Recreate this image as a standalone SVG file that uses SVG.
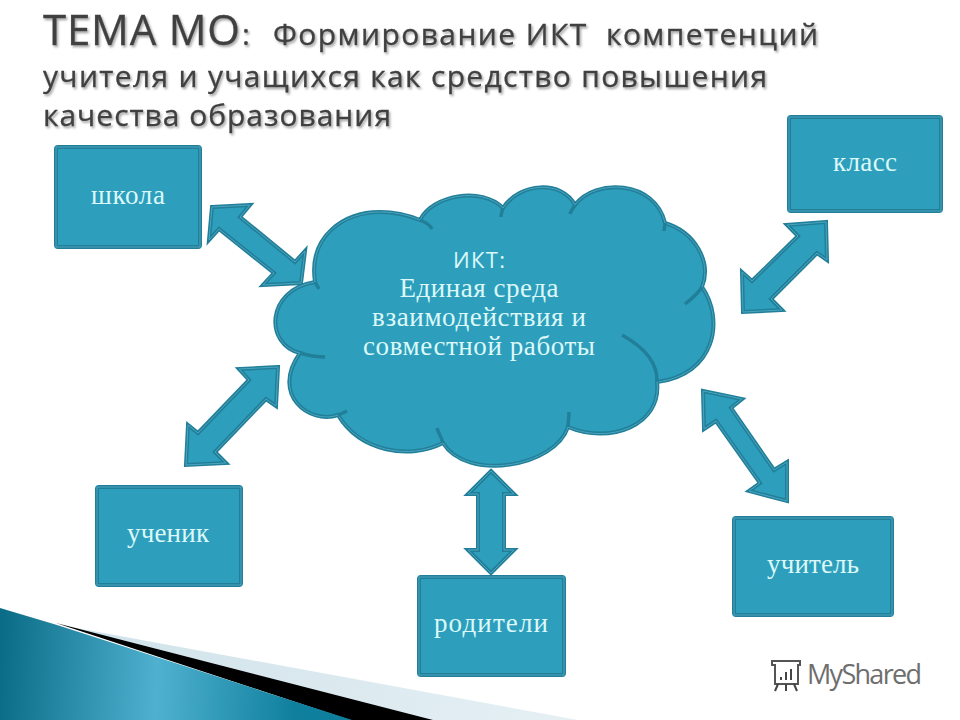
<svg xmlns="http://www.w3.org/2000/svg" width="960" height="720" viewBox="0 0 960 720">
<style>
.box{fill:#2d9fbd;stroke:#227f99;stroke-width:4;stroke-linejoin:round}
.inner{fill:none;stroke:#4aa6bf;stroke-width:1}
.arrow{fill:#2d9fbd;stroke:#227f99;stroke-width:4;stroke-linejoin:miter}
.hi{fill:none;stroke:#4aa6bf;stroke-width:1}
.curl{fill:none;stroke:#227f99;stroke-width:3.5}
.lbl{font-family:"Liberation Serif","DejaVu Serif",serif;font-size:27px;fill:#dcf8f8;text-anchor:middle}
.t{font-family:"Open Sans","DejaVu Sans",sans-serif;fill:#404040;stroke:#404040;stroke-width:.3;filter:url(#sh)}
</style>
<defs>
<filter id="sh" x="-5%" y="-20%" width="110%" height="150%"><feDropShadow dx="1.5" dy="2" stdDeviation="1.2" flood-color="#000" flood-opacity=".35"/></filter>
<linearGradient id="wedge" gradientUnits="userSpaceOnUse" x1="0" y1="660" x2="350" y2="680">
<stop offset="0" stop-color="#0a6c86"/><stop offset=".45" stop-color="#4fb1cf"/><stop offset=".85" stop-color="#0f7f9e"/><stop offset="1" stop-color="#0f7f9e"/>
</linearGradient>
<linearGradient id="pale" gradientUnits="userSpaceOnUse" x1="60" y1="625" x2="578" y2="720">
<stop offset="0" stop-color="#cfe2ea"/><stop offset="1" stop-color="#e6f0f4"/>
</linearGradient>
<polygon id="a1" points="212,207 250,205 240,217 295,262 305,251 301,283 263,285 274,273 219,229 209,240"/>
<polygon id="a2" points="826,222 787,225 798,236 752,281 742,272 743,312 782,310 771,299 817,253 827,260"/>
<polygon id="a3" points="278,367 239,369 249,380 198,433 188,425 186,465 226,463 215,452 266,399 276,406"/>
<polygon id="a4" points="703,391 742,399 731,408 774,470 787,462 787,501 749,491 760,483 716,421 704,429"/>
<polygon id="a5" points="491,471 514,494 504,494 504,550 514,550 491,573 468,550 478,550 478,494 468,494"/>
<path id="cl" d="M315,282 C308,235 345,212 380,212 C398,212 410,216 420,220 C432,195 482,186 503,208 C520,182 562,180 575,205 C595,178 655,180 665,223 C695,232 712,262 702,287 C725,320 715,375 657,382 C662,425 610,445 568,427 C555,467 467,482 443,443 C410,460 360,452 338,415 C310,425 270,395 300,353 C265,345 265,290 315,282 Z"/>
</defs>
<rect width="960" height="720" fill="#fff"/>
<g id="background">
<polygon points="60,625 578,720 433,720" fill="url(#pale)"/>
<polygon points="56,623 433,720 350,720" fill="#000"/>
<polygon points="0,608 57,625 352,720 0,720" fill="url(#wedge)"/>
</g>
<g id="title">
<text class="t" x="43" y="45" font-size="42" textLength="197" lengthAdjust="spacing">ТЕМА МО</text>
<text class="t" x="242" y="45" font-size="30">:</text>
<text class="t" x="273" y="45" font-size="30" textLength="545" lengthAdjust="spacing" xml:space="preserve">Формирование ИКТ  компетенций</text>
<text class="t" x="43" y="87" font-size="30" textLength="724" lengthAdjust="spacing">учителя и учащихся как средство повышения</text>
<text class="t" x="43" y="126" font-size="30" textLength="348" lengthAdjust="spacing">качества образования</text>
</g>
<g id="connectors">
<use href="#a1" class="arrow"/><use href="#a1" class="hi"/>
<use href="#a2" class="arrow"/><use href="#a2" class="hi"/>
<use href="#a3" class="arrow"/><use href="#a3" class="hi"/>
<use href="#a4" class="arrow"/><use href="#a4" class="hi"/>
<use href="#a5" class="arrow"/><use href="#a5" class="hi"/>
</g>
<g id="cloud">
<use href="#cl" fill="#2d9fbd" stroke="#227f99" stroke-width="4"/>
<use href="#cl" class="hi"/>
<path class="curl" d="M315,282 L319,289"/>
<path class="curl" d="M420,220 C425,222 430,225 432,229"/>
<path class="curl" d="M503,208 C502,211 501,214 501,217"/>
<path class="curl" d="M575,205 C573,208 571,211 570,214"/>
<path class="curl" d="M665,223 C665,226 664,229 664,231"/>
<path class="curl" d="M702,287 C697,295 690,300 685,304"/>
<path class="curl" d="M657,382 C658,360 640,345 622,335"/>
<path class="curl" d="M568,427 C568,422 569,418 569,412"/>
<path class="curl" d="M443,443 C441,436 438,432 437,428"/>
<path class="curl" d="M338,415 C341,414 345,412 347,411"/>
<path class="curl" d="M300,353 C310,356 318,357 325,357"/>
<text class="lbl" x="479" y="268" style="font-family:'Open Sans',sans-serif;font-size:22px" textLength="52" lengthAdjust="spacing">ИКТ:</text>
<text class="lbl" x="479" y="297" textLength="159" lengthAdjust="spacing">Единая среда</text>
<text class="lbl" x="479" y="326" textLength="214" lengthAdjust="spacing">взаимодействия и</text>
<text class="lbl" x="479" y="355" textLength="232" lengthAdjust="spacing">совместной работы</text>
</g>
<g id="school"><rect class="box" x="56" y="147" width="144" height="100" rx="2"/><rect class="inner" x="56" y="147" width="144" height="100"/><text class="lbl" x="128" y="204" textLength="74" lengthAdjust="spacing">школа</text></g>
<g id="class"><rect class="box" x="789" y="117" width="152" height="94" rx="2"/><rect class="inner" x="789" y="117" width="152" height="94"/><text class="lbl" x="865" y="171" textLength="64" lengthAdjust="spacing">класс</text></g>
<g id="student"><rect class="box" x="97" y="487" width="144" height="98" rx="2"/><rect class="inner" x="97" y="487" width="144" height="98"/><text class="lbl" x="168" y="542" textLength="82" lengthAdjust="spacing">ученик</text></g>
<g id="parents"><rect class="box" x="419" y="577" width="145" height="98" rx="2"/><rect class="inner" x="419" y="577" width="145" height="98"/><text class="lbl" x="491" y="632" textLength="114" lengthAdjust="spacing">родители</text></g>
<g id="teacher"><rect class="box" x="734" y="518" width="158" height="97" rx="2"/><rect class="inner" x="734" y="518" width="158" height="97"/><text class="lbl" x="813" y="573" textLength="92" lengthAdjust="spacing">учитель</text></g>
<g id="logo">
<path d="M772,661 H800 V665 H798 V684 H775 V665 H772 Z" fill="#fff" stroke="#555" stroke-width="2"/>
<path d="M781,680 V677 M786,680 V672 M791,680 V669 M778,684 L775,691 M786,684 V691 M794,684 L797,691" stroke="#444" stroke-width="2" fill="none"/>
<text x="807" y="684" font-family="'Open Sans',sans-serif" font-size="27" fill="#6e6e6e" textLength="115" lengthAdjust="spacing">MyShared</text>
</g>
</svg>
